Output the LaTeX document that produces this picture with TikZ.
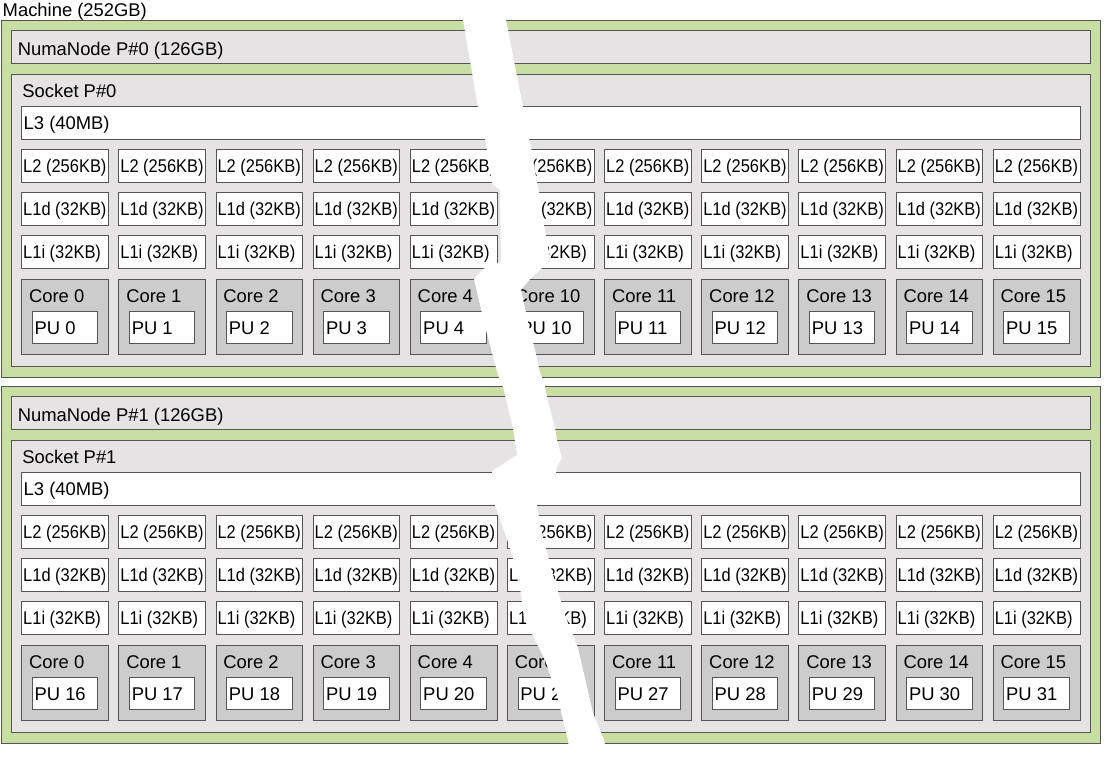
\documentclass[tikz,border=0pt]{standalone}
\usepackage{fontspec}
\setmainfont{Liberation Sans}
\definecolor{numagreen}{RGB}{200,222,163}
\definecolor{sockgray}{RGB}{229,227,227}
\definecolor{coregray}{RGB}{204,204,204}
\definecolor{edgegray}{RGB}{85,85,85}
\tikzset{
  box/.style={draw=edgegray, line width=1pt, rectangle, inner sep=0pt, outer sep=0pt, anchor=north west},
  greenbox/.style={box, fill=numagreen},
  graybox/.style={box, fill=sockgray},
  whitebox/.style={box, fill=white},
  corebox/.style={box, fill=coregray},
  txt/.style={anchor=base west, inner sep=0pt, outer sep=0pt, font=\fontsize{18.4}{20}\selectfont},
}
\newcommand{\cachetxt}[1]{\scalebox{0.895}[1]{#1}}
% #1 y offset, #2 name suffix, #3 numa label, #4 socket label, #5 PU base
\newcommand{\drawhalf}[5]{%
  \node[greenbox, minimum width=1099.7pt, minimum height=356.7pt] (numa#2) at (1,20.3+#1) {};
  \node[graybox, minimum width=1079.7pt, minimum height=32.6pt] (numalbl#2) at (11,30.7+#1) {};
  \node[txt] (numatxt#2) at (17.9,55+#1) {#3};
  \node[graybox, minimum width=1079pt, minimum height=292pt] (sock#2) at (11.7,74+#1) {};
  \node[txt] (socktxt#2) at (22.4,97.7+#1) {#4};
  \node[whitebox, minimum width=1058.3pt, minimum height=32.6pt] (lthree#2) at (21.7,106.7+#1) {};
  \node[txt] (lthreetxt#2) at (23.7,129.8+#1) {L3 (40MB)};
  \foreach \c [count=\i from 0] in {0,1,2,3,4,10,11,12,13,14,15} {
    \pgfmathsetmacro{\cx}{21.7+97.16*\i}
    \pgfmathtruncatemacro{\pu}{\c+#5}
    \node[whitebox, minimum width=86.7pt, minimum height=33pt] (ltwo#2\i) at (\cx,149.3+#1) {};
    \node[txt] (ltwotxt#2\i) at (\cx+1.5,172.3+#1) {\cachetxt{L2 (256KB)}};
    \node[whitebox, minimum width=86.7pt, minimum height=33pt] (lod#2\i) at (\cx,192.6+#1) {};
    \node[txt] (lodtxt#2\i) at (\cx+1.5,215.6+#1) {\cachetxt{L1d (32KB)}};
    \node[whitebox, minimum width=86.7pt, minimum height=33pt] (loi#2\i) at (\cx,235.9+#1) {};
    \node[txt] (loitxt#2\i) at (\cx+1.5,258.9+#1) {\cachetxt{L1i (32KB)}};
    \node[corebox, minimum width=86.7pt, minimum height=75pt] (core#2\i) at (\cx,279.2+#1) {};
    \node[txt] (coretxt#2\i) at (\cx+7.4,302.7+#1) {Core \c};
    \node[whitebox, minimum width=65.4pt, minimum height=31.6pt] (pu#2\i) at (\cx+10.6,311.7+#1) {};
    \node[txt] (putxt#2\i) at (\cx+12.9,334.2+#1) {PU \pu};
  }
}
\begin{document}
\begin{tikzpicture}[x=1pt,y=-1pt]
\useasboundingbox (0,0) rectangle (1104,777);
\fill[white] (0,0) rectangle (1104,777);
\node[txt] (machine) at (2.7,16.7) {Machine (252GB)};
\drawhalf{0}{a}{NumaNode P\#0 (126GB)}{Socket P\#0}{0}
\drawhalf{366}{b}{NumaNode P\#1 (126GB)}{Socket P\#1}{16}
% the tear
\fill[white] (457,-2) -- (463,20) -- (478,107) -- (485,139) -- (489,160) -- (492,184)
  -- (500,190) -- (501,262) -- (483,269) -- (474,279) -- (486,330) -- (498,375)
  -- (503,387) -- (513,428) -- (517,455) -- (492,471) -- (495,505) -- (509,545)
  -- (519,578) -- (524,618) -- (545,660) -- (557,695) -- (568,740) -- (572,779)
  -- (612,779) -- (604,740) -- (593,713) -- (578,648) -- (566,618) -- (553,575)
  -- (541,530) -- (537,505) -- (556,473) -- (557,467) -- (562,458) -- (557,440)
  -- (555,428) -- (547,397) -- (545,387) -- (540,372) -- (535,350) -- (528,322)
  -- (521,290) -- (530,279) -- (542,268) -- (550,258) -- (544,225) -- (539,192)
  -- (537,182) -- (534,166) -- (531,148) -- (529,139) -- (523,107) -- (506,20)
  -- (502,-2) -- cycle;
\end{tikzpicture}
\end{document}
